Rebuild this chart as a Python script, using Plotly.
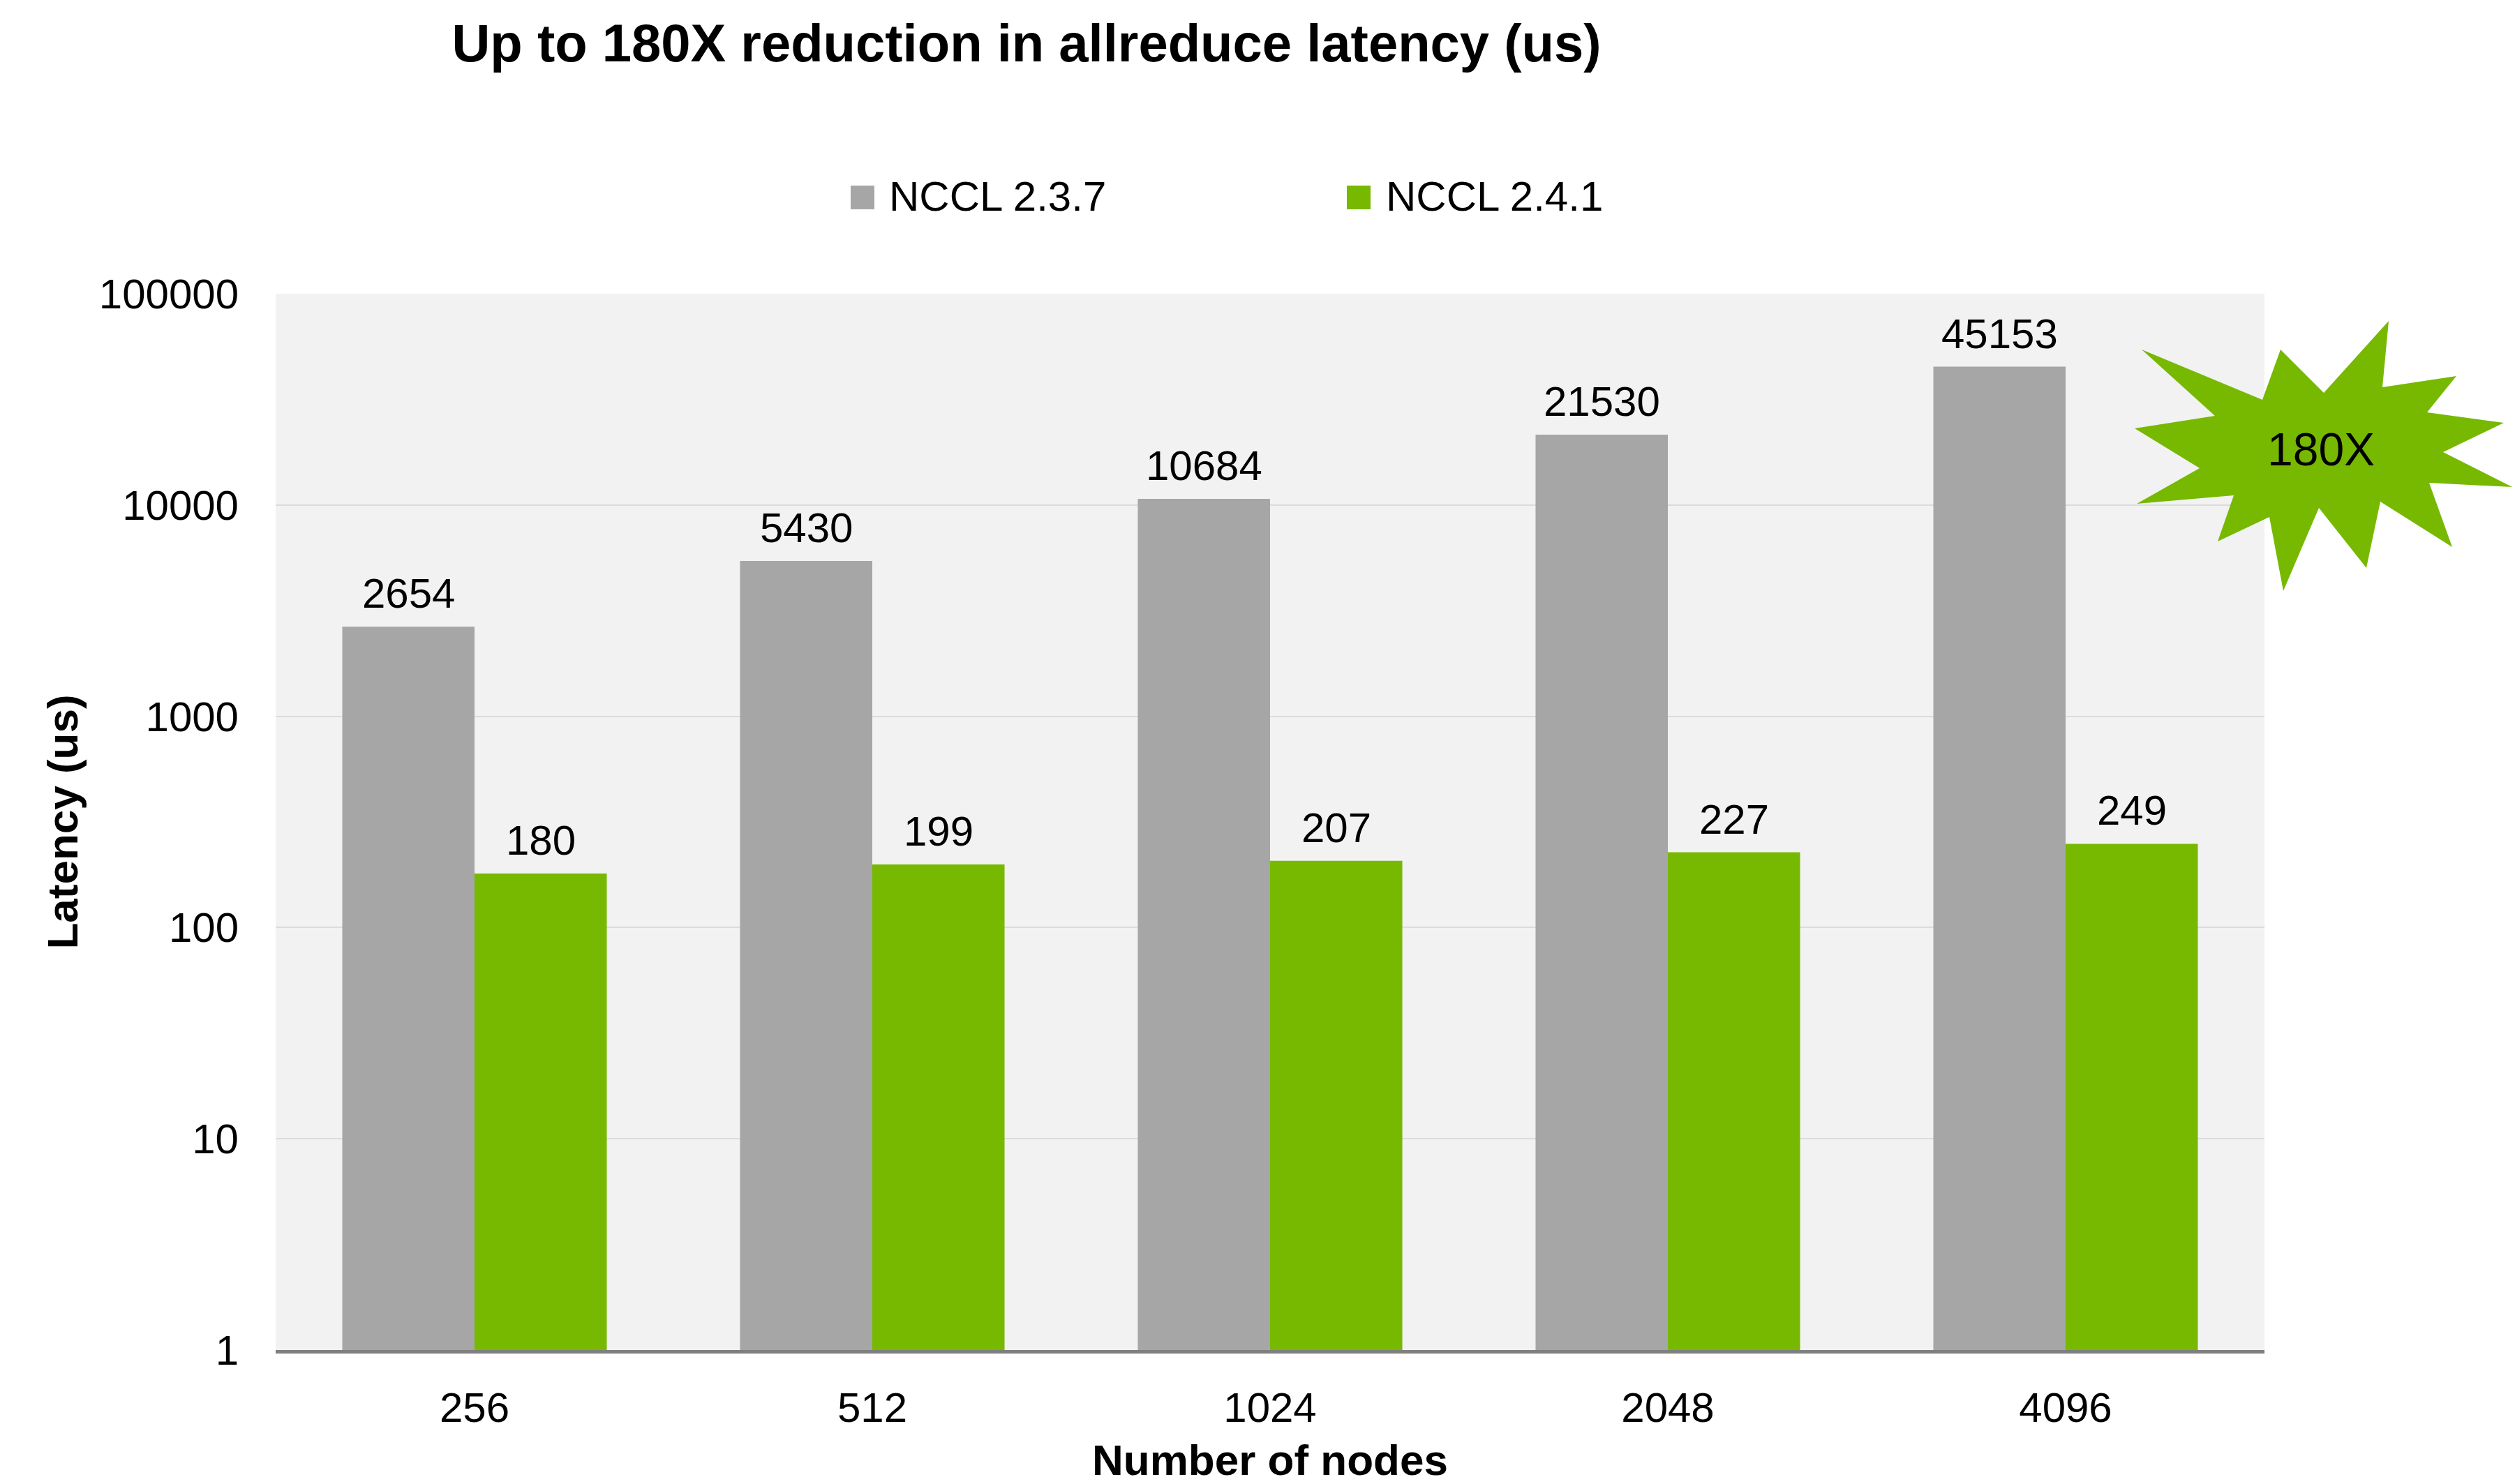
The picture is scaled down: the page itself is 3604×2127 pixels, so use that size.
import numpy as np
import plotly.graph_objects as go

# ---- data ----
nodes = ["256", "512", "1024", "2048", "4096"]
series_names = ["NCCL 2.3.7", "NCCL 2.4.1"]
nccl_237 = [2654, 5430, 10684, 21530, 45153]
nccl_241 = [180, 199, 207, 227, 249]
y_ticks = [1, 10, 100, 1000, 10000, 100000]
title_text = "Up to 180X reduction in allreduce latency (us)"
badge_text = "180X"

# ---- styling / geometry ----
W, H = 3604, 2127
M_L, M_R, M_T, M_B = 395, 359, 421, 192
PW, PH = W - M_L - M_R, H - M_T - M_B
GRAY, GREEN = "#A6A6A6", "#76B900"
FONT = "Liberation Sans, Arial, sans-serif"
BARGAP = 0.335


def px_to_paper(px, py):
    return (px - M_L) / PW, (H - M_B - py) / PH


fig = go.Figure()
for name, vals, col in [(series_names[0], nccl_237, GRAY), (series_names[1], nccl_241, GREEN)]:
    fig.add_trace(go.Bar(x=nodes, y=vals, name=name, marker_color=col,
                         marker_line_width=0, showlegend=False))

# value labels above each bar (category index positions, shifted onto each bar of the pair)
bar_w = PW / len(nodes) * (1 - BARGAP) / 2
annotations = []
for k, vals in enumerate([nccl_237, nccl_241]):
    shift = (k - 0.5) * bar_w
    for i, v in enumerate(vals):
        annotations.append(dict(x=i, y=np.log10(v), xref="x", yref="y", text=str(v),
                                showarrow=False, yanchor="bottom", xshift=shift, yshift=12,
                                font=dict(family=FONT, size=60, color="black")))

# legend drawn as squares + labels above the plot
shapes = []
legend_pos = [(1219, 1272), (1930, 1984)]
for (sq_x, tx_x), name, col in zip(legend_pos, series_names, [GRAY, GREEN]):
    x0, y0 = px_to_paper(sq_x, 300)
    x1, y1 = px_to_paper(sq_x + 34, 266)
    shapes.append(dict(type="rect", xref="paper", yref="paper", x0=x0, x1=x1, y0=y0, y1=y1,
                       fillcolor=col, line_width=0))
    tx, ty = px_to_paper(tx_x, 281)
    annotations.append(dict(x=tx, y=ty, xref="paper", yref="paper", text=name, showarrow=False,
                            xanchor="left", yanchor="middle",
                            font=dict(family=FONT, size=60, color="black")))

# starburst callout
burst_px = [(3069, 501), (3242, 573), (3268, 501), (3330, 563), (3423, 460), (3414, 555),
            (3520, 539), (3478, 591), (3588, 606), (3501, 648), (3600, 698), (3481, 692),
            (3514, 784), (3411, 719), (3391, 814), (3323, 728), (3272, 847), (3252, 741),
            (3178, 776), (3201, 710), (3062, 722), (3152, 671), (3059, 614), (3174, 596)]
pts = [px_to_paper(px, py) for px, py in burst_px]
path = "M " + " L ".join(f"{x:.5f},{y:.5f}" for x, y in pts) + " Z"
shapes.append(dict(type="path", xref="paper", yref="paper", path=path,
                   fillcolor=GREEN, line_width=0, layer="above"))
bx, by = px_to_paper(3326, 644)
annotations.append(dict(x=bx, y=by, xref="paper", yref="paper", text=badge_text, showarrow=False,
                        xanchor="center", yanchor="middle",
                        font=dict(family=FONT, size=66, color="black")))

fig.update_layout(
    width=W, height=H,
    margin=dict(l=M_L, r=M_R, t=M_T, b=M_B, autoexpand=False),
    paper_bgcolor="white", plot_bgcolor="#F2F2F2",
    barmode="group", bargap=BARGAP, bargroupgap=0,
    title=dict(text=title_text, x=1471 / W, xanchor="center", y=1 - 61 / H, yanchor="middle",
               xref="container", yref="container",
               font=dict(family=FONT, size=76, color="black", weight="bold")),
    showlegend=False,
    shapes=shapes, annotations=annotations,
    xaxis=dict(type="category", range=[-0.5, len(nodes) - 0.5],
               showgrid=False, showline=True, linecolor="#7F7F7F", linewidth=5,
               ticks="", ticklabelstandoff=26,
               tickfont=dict(family=FONT, size=60, color="black"),
               title=dict(text="Number of nodes", standoff=38,
                          font=dict(family=FONT, size=62, color="black", weight="bold"))),
    yaxis=dict(type="log", range=[0, 5], tickvals=y_ticks, ticktext=[str(t) for t in y_ticks],
               showgrid=True, gridcolor="#DCDCDC", gridwidth=2, showline=False, zeroline=False,
               ticks="", ticklabelstandoff=52,
               tickfont=dict(family=FONT, size=60, color="black"),
               title=dict(text="Latency (us)", standoff=10,
                          font=dict(family=FONT, size=62, color="black", weight="bold"))),
)

fig.write_html("out.html")
